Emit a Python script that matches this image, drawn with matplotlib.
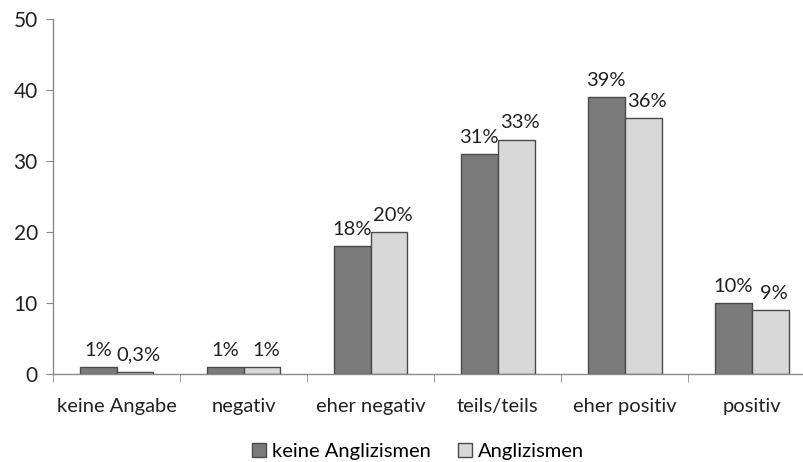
import numpy as np
from matplotlib import pyplot as plt
from matplotlib.ticker import FixedLocator

categories = ['keine Angabe', 'negativ', 'eher negativ', 'teils/teils', 'eher positiv', 'positiv']
keine_angl = [1, 1, 18, 31, 39, 10]
angl = [0.3, 1, 20, 33, 36, 9]
labels_keine = ['1%', '1%', '18%', '31%', '39%', '10%']
labels_angl = ['0,3%', '1%', '20%', '33%', '36%', '9%']
series_names = ['keine Anglizismen', 'Anglizismen']

plt.rcParams['font.family'] = ['Lato', 'DejaVu Sans']
plt.rcParams['font.size'] = 14.5

fig = plt.figure(figsize=(8.04, 4.62), dpi=100)
ax = fig.add_axes([0.066, 0.19, 0.948, 0.769])

x = np.arange(len(categories))
w = 0.29
edge = '#4a4a4a'
b1 = ax.bar(x - w / 2, keine_angl, w, color='#7b7b7b', edgecolor=edge, linewidth=1.0,
            label=series_names[0])
b2 = ax.bar(x + w / 2, angl, w, color='#d8d8d8', edgecolor=edge, linewidth=1.0,
            label=series_names[1])

for rect, lab in zip(b1, labels_keine):
    ax.annotate(lab, (rect.get_x() + rect.get_width() / 2, rect.get_height()),
                xytext=(0, 6), textcoords='offset points', ha='center', va='bottom',
                color='#222222')
for rect, lab in zip(b2, labels_angl):
    ax.annotate(lab, (rect.get_x() + rect.get_width() / 2 + 0.03, rect.get_height()),
                xytext=(0, 6), textcoords='offset points', ha='center', va='bottom',
                color='#222222')

ax.set_xlim(-0.5, len(categories) - 0.5)
ax.set_ylim(0, 50)
ax.set_yticks(range(0, 51, 10))
ax.set_xticks(x)
ax.set_xticklabels(categories)
ax.xaxis.set_minor_locator(FixedLocator(np.arange(-0.5, len(categories), 1.0)))
ax.tick_params(axis='x', which='major', length=0, pad=17, colors='#222222')
ax.tick_params(axis='x', which='minor', length=6, color='#8a8a8a')
ax.tick_params(axis='y', length=5, pad=6, labelsize=15, labelcolor='#222222', color='#8a8a8a')

for s in ['top', 'right']:
    ax.spines[s].set_visible(False)
for s in ['left', 'bottom']:
    ax.spines[s].set_color('#8a8a8a')
    ax.spines[s].set_linewidth(1.0)

fig.legend(handles=[b1, b2], loc='center', bbox_to_anchor=(0.52, 0.022), ncol=2,
           frameon=False, handlelength=0.7, handleheight=0.7, handletextpad=0.3,
           columnspacing=1.35, fontsize=14.5)

plt.savefig('out.png', dpi=100)
